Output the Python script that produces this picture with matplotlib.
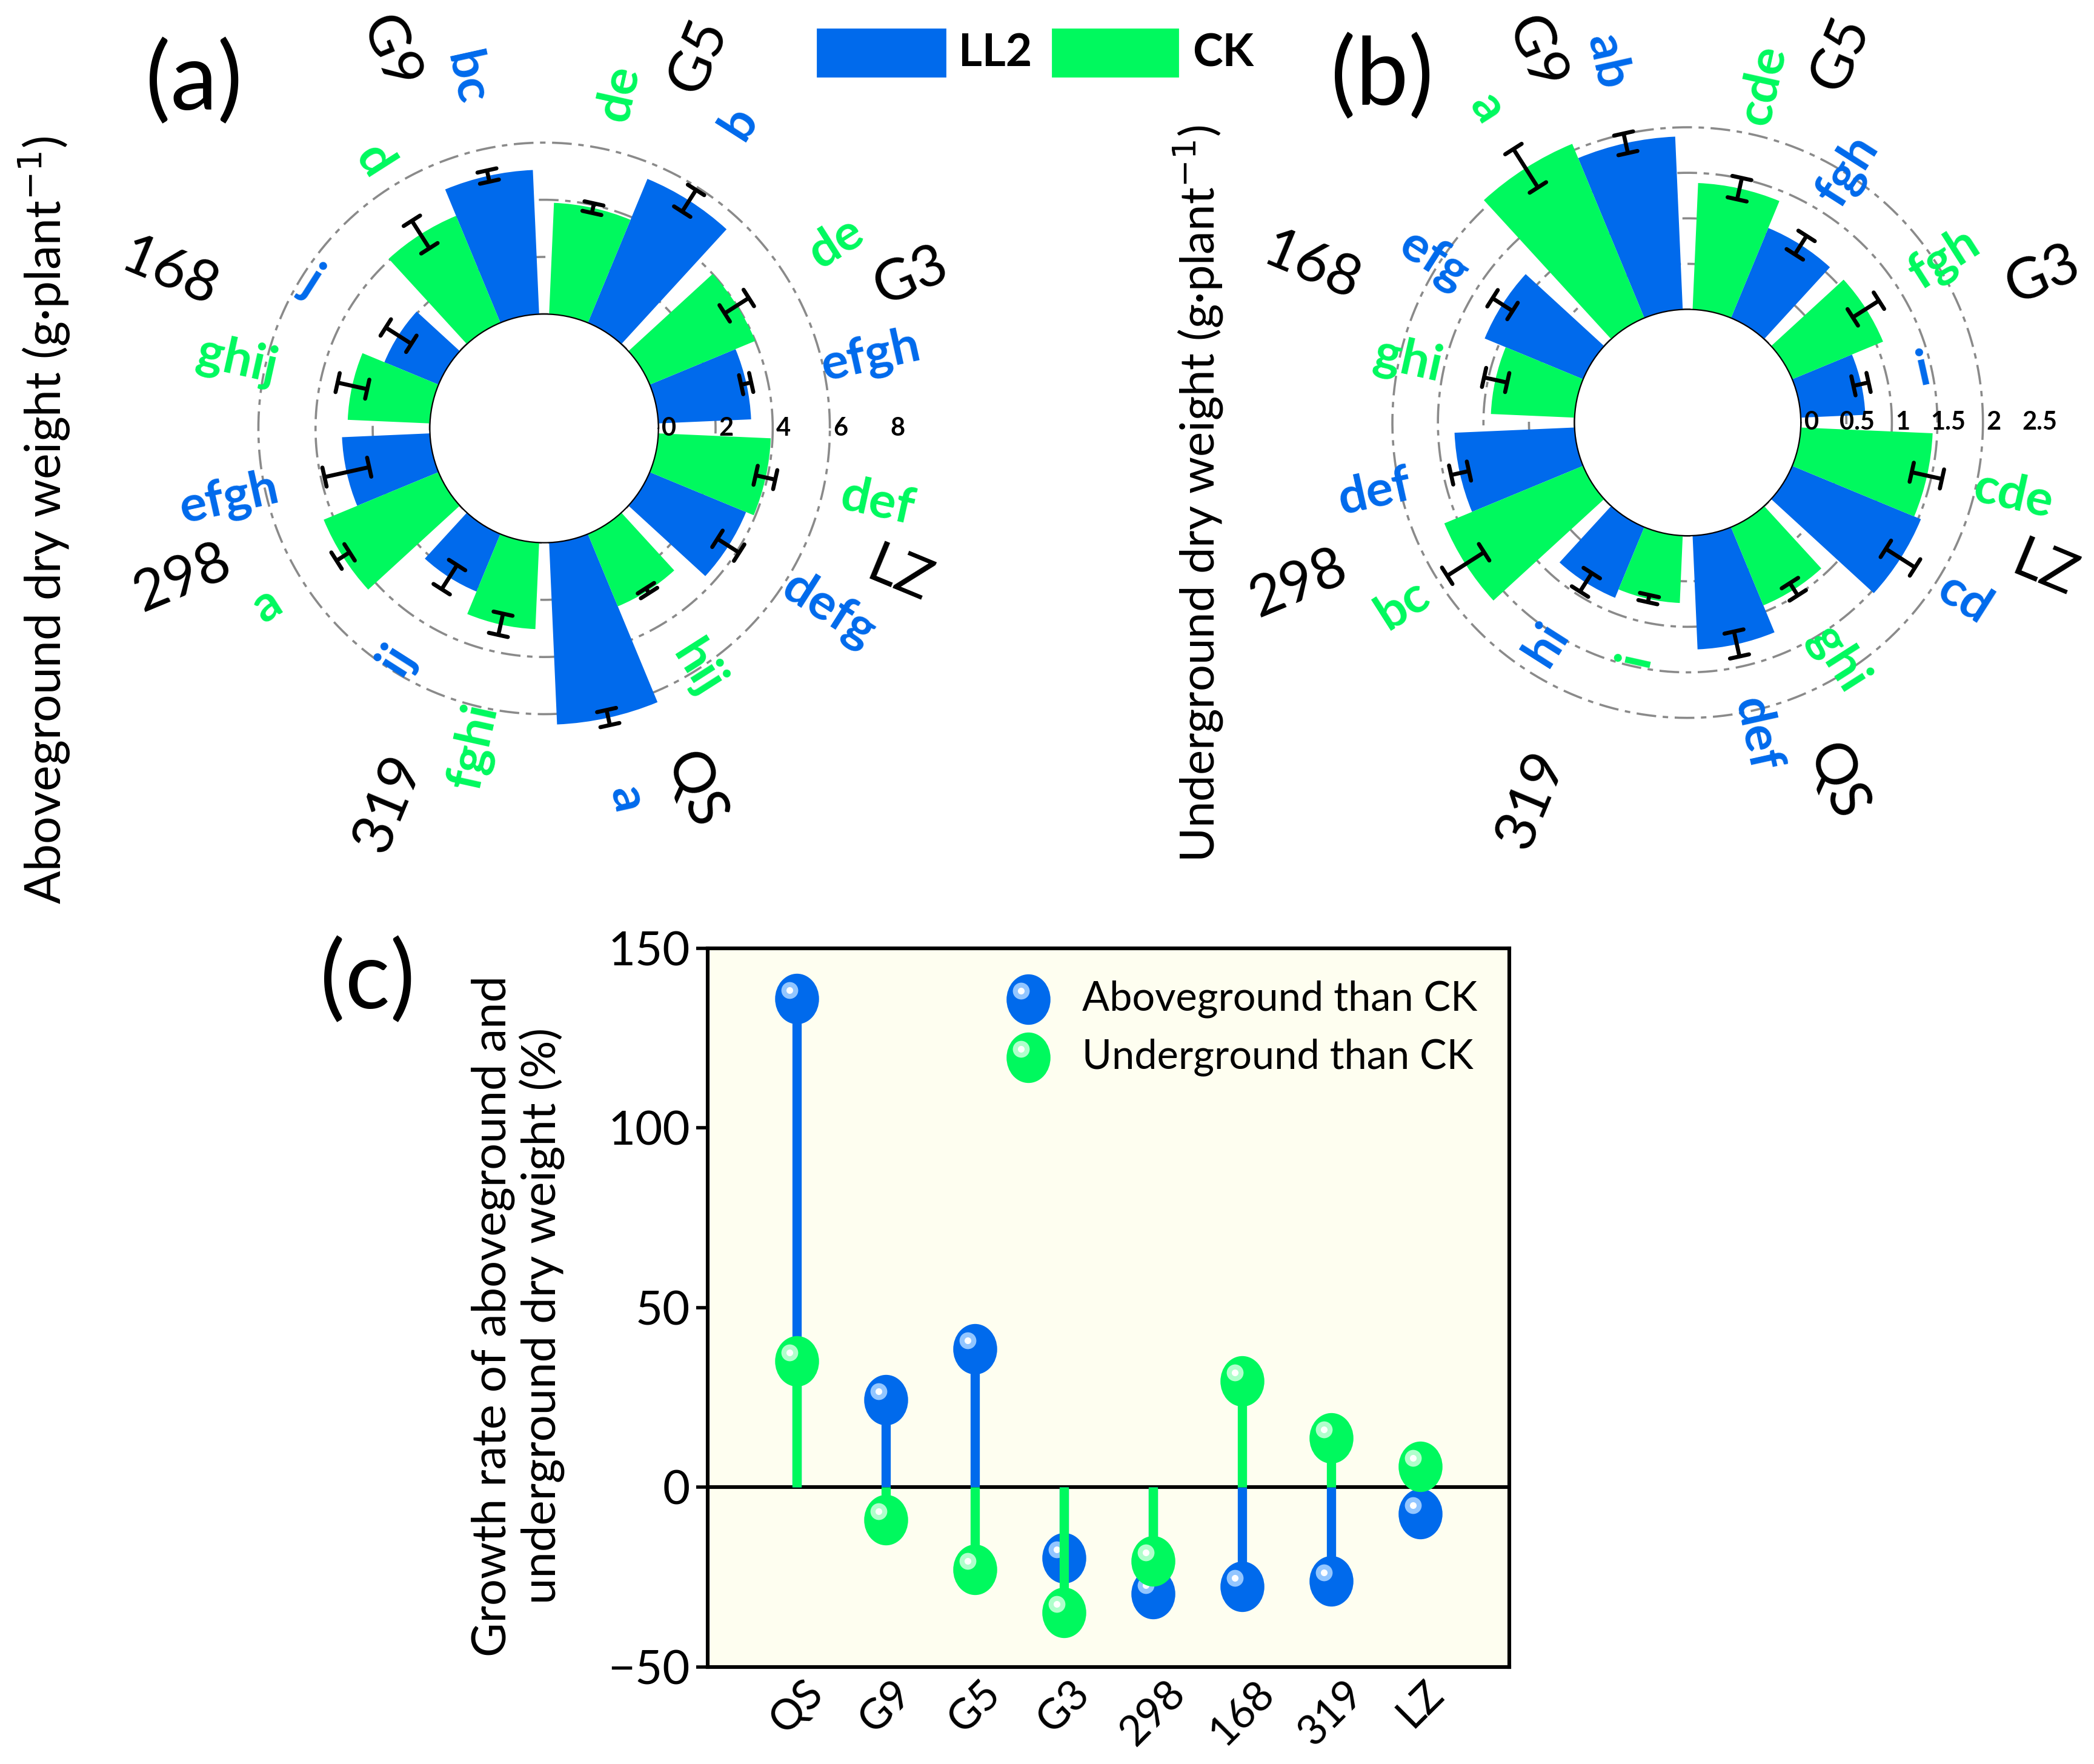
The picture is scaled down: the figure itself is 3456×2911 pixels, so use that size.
import numpy as np
import matplotlib.pyplot as plt
from matplotlib.patches import Rectangle
from matplotlib.path import Path
from matplotlib.transforms import Affine2D, offset_copy

plt.rcParams['font.family'] = ['Lato', 'DejaVu Sans']

BLUE = '#006AEC'
GREEN = '#00F95E'
GRID = '#8a8a8a'

# genotypes, counterclockwise from 0 deg in the polar panels
genotypes = ['G3', 'G5', 'G9', '168', '298', '319', 'QS', 'LZ']

# (a) aboveground dry weight (g per plant)
above_ll2 = [3.25, 5.45, 5.05, 2.05, 3.08, 2.18, 6.37, 3.65]
above_ll2_err = [0.18, 0.45, 0.2, 0.53, 0.8, 0.5, 0.27, 0.45]
above_ck = [4.0, 3.9, 4.05, 2.88, 4.35, 3.03, 2.74, 3.94]
above_ck_err = [0.5, 0.17, 0.57, 0.53, 0.27, 0.38, 0.1, 0.35]
above_ll2_sig = ['efgh', 'b', 'bc', 'j', 'efgh', 'ij', 'a', 'defg']
above_ck_sig = ['de', 'de', 'd', 'ghij', 'a', 'fghi', 'hij', 'def']

# (b) underground dry weight (g per plant)
under_ll2 = [0.71, 1.07, 1.9, 1.17, 1.32, 0.84, 1.25, 1.53]
under_ll2_err = [0.085, 0.12, 0.11, 0.13, 0.1, 0.12, 0.14, 0.19]
under_ck = [1.08, 1.39, 2.07, 0.92, 1.65, 0.74, 0.93, 1.45]
under_ck_err = [0.17, 0.12, 0.25, 0.13, 0.24, 0.04, 0.08, 0.17]
under_ll2_sig = ['i', 'fgh', 'ab', 'efg', 'def', 'hi', 'def', 'cd']
under_ck_sig = ['fgh', 'cde', 'a', 'ghi', 'bc', 'i', 'ghi', 'cde']

# (c) growth rate vs CK (%)
rate_cats = ['QS', 'G9', 'G5', 'G3', '298', '168', '319', 'LZ']
rate_above = [136, 24.3, 38.5, -19.7, -29.6, -27.6, -26.1, -7.3]
rate_under = [35.2, -9.1, -22.8, -34.9, -20.5, 29.6, 13.7, 5.8]

# where the letters and genotype names sit (radial position)
sig_pos_a_ll2 = [7.7, 8.7, 8.55, 5.6, 7.3, 5.6, 9.3, 7.8]
sig_pos_a_ck = [8.1, 8.0, 7.1, 7.0, 7.5, 7.4, 6.0, 7.95]
sig_pos_b_ll2 = [1.41, 2.03, 2.82, 2.07, 2.28, 1.64, 2.26, 2.36]
sig_pos_b_ck = [2.1, 2.55, 2.85, 1.9, 2.47, 1.42, 1.84, 2.42]
name_pos_a = [9.9, 10.1, 10.2, 10.2, 9.7, 10.2, 9.7, 9.45]
name_pos_b = [2.98, 3.14, 3.14, 3.23, 3.38, 3.24, 3.03, 3.0]

fig = plt.figure(figsize=(17.28, 14.555), dpi=200)


def rot(deg):
    deg = deg % 360
    return deg if (deg <= 90 or deg >= 270) else deg - 180


def polar_panel(rect, ll2, ll2_err, ck, ck_err, ll2_sig, ck_sig, pos_ll2, pos_ck,
                rmax, rorigin, rticks, tick_lab, tick_off, name_pos, cap):
    ax = fig.add_axes(rect, projection='polar')
    ax.set_ylim(0, rmax)
    ax.set_rorigin(rorigin)
    ax.set_xticks([])
    ax.set_yticks([])
    ax.grid(False)
    for sp in ax.spines.values():
        sp.set_visible(False)
    ax.patch.set_visible(False)

    centers = np.deg2rad(22.5 + 45 * np.arange(8))
    w = np.deg2rad(20)
    th_l = centers - w / 2
    th_c = centers + w / 2

    # grid circles
    full = np.linspace(0, 2 * np.pi, 500)
    ax.plot(full, np.zeros_like(full), color=GRID, lw=1.3, ls=(0, (5, 3)), zorder=1)
    for t in rticks[1:-1]:
        ax.plot(full, np.full_like(full, t), color=GRID, lw=1.3,
                ls=(0, (9, 3, 2.5, 3)), zorder=1)

    ax.bar(th_l, ll2, width=w, color=BLUE, lw=0, zorder=2)
    ax.bar(th_c, ck, width=w, color=GREEN, lw=0, zorder=2)

    # error bars with tangential caps
    for th, v, e in list(zip(th_l, ll2, ll2_err)) + list(zip(th_c, ck, ck_err)):
        ax.plot([th, th], [v - e, v + e], color='k', lw=2.4, zorder=3,
                solid_capstyle='butt')
        for r in (v - e, v + e):
            d = cap / (r - rorigin)
            ax.plot([th - d, th + d], [r, r], color='k', lw=2.4, zorder=3,
                    solid_capstyle='round')

    # significance letters
    for th, s, r in zip(th_l, ll2_sig, pos_ll2):
        ax.text(th, r, s, color=BLUE, fontsize=30, fontweight='bold',
                rotation=rot(np.rad2deg(th)), rotation_mode='anchor',
                ha='center', va='center')
    for th, s, r in zip(th_c, ck_sig, pos_ck):
        ax.text(th, r, s, color=GREEN, fontsize=30, fontweight='bold',
                rotation=rot(np.rad2deg(th)), rotation_mode='anchor',
                ha='center', va='center')

    # genotype names
    for th, g, r in zip(centers, genotypes, name_pos):
        ax.text(th, r, g, fontsize=34, rotation=rot(np.rad2deg(th)),
                rotation_mode='anchor', ha='center', va='center')

    # radial tick labels along 0 deg
    for t, lab in zip(rticks, tick_lab):
        ax.text(0, t + tick_off, lab, fontsize=15, fontweight='bold',
                ha='center', va='center', zorder=4)
    return ax


polar_panel([0.0961, 0.5627, 0.3275, 0.3889], above_ll2, above_ll2_err, above_ck,
            above_ck_err, above_ll2_sig, above_ck_sig, sig_pos_a_ll2, sig_pos_a_ck,
            8, -4.0, [0, 2, 4, 6, 8], ['0', '2', '4', '6', '8'], 0.37, name_pos_a, 0.34)

polar_panel([0.6432, 0.5672, 0.3255, 0.3865], under_ll2, under_ll2_err, under_ck,
            under_ck_err, under_ll2_sig, under_ck_sig, sig_pos_b_ll2, sig_pos_b_ck,
            2.5, -1.243, [0, 0.5, 1, 1.5, 2, 2.5], ['0', '0.5', '1', '1.5', '2', '2.5'],
            0.12, name_pos_b, 0.107)

fig.text(0.021, 0.705, 'Aboveground dry weight (g·plant$^{-1}$)', rotation=90,
         ha='center', va='center', fontsize=29)
fig.text(0.572, 0.72, 'Underground dry weight (g·plant$^{-1}$)', rotation=90,
         ha='center', va='center', fontsize=28)

fig.text(0.0926, 0.953, '(a)', fontsize=56, ha='center', va='center')
fig.text(0.660, 0.956, '(b)', fontsize=56, ha='center', va='center')
fig.text(0.1754, 0.4435, '(c)', fontsize=56, ha='center', va='center')

# top legend
fig.add_artist(Rectangle((0.3903, 0.9567), 0.0611, 0.0268, color=BLUE,
                         transform=fig.transFigure))
fig.text(0.4578, 0.9698, 'LL2', fontsize=27, fontweight='bold', va='center')
fig.add_artist(Rectangle((0.5026, 0.9567), 0.0599, 0.0268, color=GREEN,
                         transform=fig.transFigure))
fig.text(0.5695, 0.9698, 'CK', fontsize=27, fontweight='bold', va='center')

# (c) lollipop chart
ax = fig.add_axes([0.338, 0.055, 0.3828, 0.4074])
ax.set_facecolor('#FEFEF0')
ell = Path.unit_circle().transformed(Affine2D().scale(0.87, 1.0))


def ball(ax, x, y, base, light, z, trans):
    ax.plot(x, y, ls='none', marker=ell, ms=30, mfc=base, mec='none', zorder=z,
            transform=trans, clip_on=False)
    hl = offset_copy(trans, fig=fig, x=-4.5, y=5, units='points')
    ax.plot(x, y, ls='none', marker='o', ms=10, mfc=light, mec='none', zorder=z + 0.1,
            transform=hl, clip_on=False)
    ax.plot(x, y, ls='none', marker='o', ms=4, mfc='white', mec='none', zorder=z + 0.2,
            transform=hl, clip_on=False)


x = np.arange(len(rate_cats))
ax.axhline(0, color='k', lw=2.2, zorder=1.5)
ax.vlines(x, 0, rate_above, color=BLUE, lw=5.5, zorder=2)
ball(ax, x, rate_above, BLUE, '#93C6FF', 3, ax.transData)
ax.vlines(x, 0, rate_under, color=GREEN, lw=5.5, zorder=4)
ball(ax, x, rate_under, GREEN, '#B0FFCC', 5, ax.transData)

ax.set_xlim(-1, 8)
ax.set_ylim(-50, 150)
ax.set_yticks([-50, 0, 50, 100, 150])
ax.set_xticks(x)
ax.set_xticklabels(rate_cats, rotation=45, ha='center', va='top')
ax.tick_params(axis='x', length=0, pad=4, labelsize=25)
ax.tick_params(axis='y', direction='out', length=7, width=2, labelsize=28)
for sp in ax.spines.values():
    sp.set_linewidth(2.2)

ball(ax, [0.40], [0.929], BLUE, '#93C6FF', 6, ax.transAxes)
ball(ax, [0.40], [0.848], GREEN, '#B0FFCC', 6, ax.transAxes)
ax.text(0.467, 0.929, 'Aboveground than CK', transform=ax.transAxes, fontsize=24,
        va='center')
ax.text(0.467, 0.848, 'Underground than CK', transform=ax.transAxes, fontsize=24,
        va='center')

fig.text(0.2474, 0.254, 'Growth rate of aboveground and\nunderground dry weight (%)',
         rotation=90, ha='center', va='center', fontsize=28, linespacing=1.1)

fig.savefig('out.png', dpi=200)
